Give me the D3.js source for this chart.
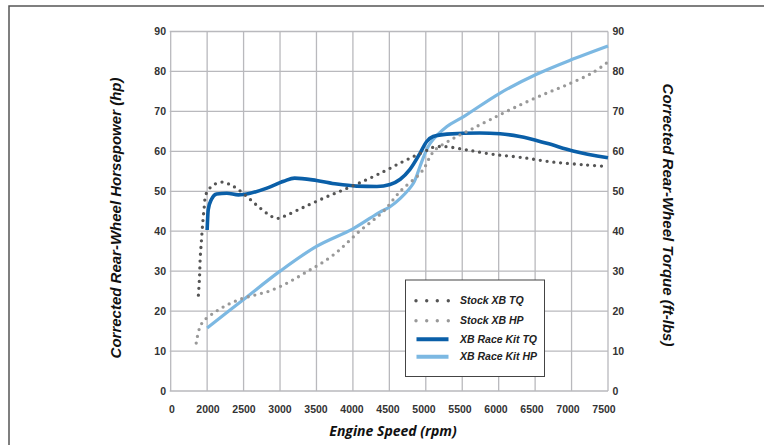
<!DOCTYPE html>
<html>
<head>
<meta charset="utf-8">
<script src="https://cdn.jsdelivr.net/npm/d3@7"></script>
<style>
  html, body { margin: 0; padding: 0; background: #fff; }
  svg { display: block; }
  .tick-label { font-family: "Liberation Sans", Arial, sans-serif; font-weight: bold; font-size: 10.5px; fill: #333; }
  .axis-title { font-family: "Liberation Sans", Arial, sans-serif; font-weight: bold; font-style: italic; font-size: 15px; fill: #111; }
  .x-title { font-family: "Open Sans", sans-serif; font-weight: bold; font-style: italic; font-size: 14px; fill: #111; }
  .legend-label { font-family: "Liberation Sans", Arial, sans-serif; font-weight: bold; font-style: italic; font-size: 10.5px; fill: #222; }
</style>
</head>
<body>
<div id="chart"></div>
<script>
// x ticks: the first grid line (1500 rpm) is labelled "0" on the original
var xTicks = [1500, 2000, 2500, 3000, 3500, 4000, 4500, 5000, 5500, 6000, 6500, 7000, 7500];
var xTickLabels = ['0', '2000', '2500', '3000', '3500', '4000', '4500', '5000', '5500', '6000', '6500', '7000', '7500'];
var yTicks = [0, 10, 20, 30, 40, 50, 60, 70, 80, 90];

var seriesNames = ['Stock XB TQ', 'Stock XB HP', 'XB Race Kit TQ', 'XB Race Kit HP'];

var stockTqRpm = [1880, 1895, 1905, 1920, 1935, 1955, 1990, 2080, 2200, 2300, 2400, 2550, 2700, 2850, 2950, 3050, 3300, 3600, 3900, 4200, 4450, 4650, 4830, 5000, 5100, 5250, 5550, 5900, 6300, 6750, 7200, 7500];
var stockTq = [24, 28.3, 33.3, 37.2, 41, 45, 49.5, 51.5, 52.3, 51.8, 50.8, 48.6, 46.2, 44.1, 43.2, 43.7, 45.8, 48.3, 50.6, 53, 55.2, 57.1, 58.7, 60.1, 61, 61.2, 60.4, 59.3, 58.5, 57.3, 56.6, 56.2];

var stockHpRpm = [1850, 1895, 1950, 2110, 2280, 2475, 2670, 2850, 3040, 3205, 3390, 3560, 3755, 3915, 4090, 4260, 4420, 4650, 4920, 4990, 5060, 5130, 5355, 5610, 5880, 6200, 6570, 6930, 7300, 7500];
var stockHp = [12, 15.7, 17.5, 19.8, 21.6, 23.1, 24.1, 25, 26.5, 28.1, 30.1, 31.9, 34.4, 37, 40, 42.5, 45, 50, 54.4, 56.2, 58.7, 60.4, 63, 65.4, 67.9, 70.8, 73.9, 76.6, 79.8, 82.4];

var raceTqRpm = [2000, 2015, 2060, 2130, 2270, 2430, 2590, 2820, 3050, 3200, 3500, 3780, 4050, 4330, 4510, 4650, 4780, 4920, 5010, 5100, 5290, 5740, 6020, 6290, 6660, 7020, 7500];
var raceTq = [40.3, 45.4, 48.0, 49.3, 49.5, 49.1, 49.5, 50.8, 52.5, 53.3, 52.7, 51.8, 51.3, 51.2, 51.7, 53.0, 55.4, 59.5, 62.4, 63.7, 64.3, 64.6, 64.4, 63.7, 62.0, 60.1, 58.4];

var raceHpRpm = [2000, 2500, 3000, 3500, 4000, 4370, 4500, 4650, 4830, 4920, 4990, 5060, 5290, 5520, 6020, 6520, 7020, 7500];
var raceHp = [15.8, 22.9, 30.0, 36.2, 40.6, 44.8, 46.0, 48.2, 52.0, 56.2, 59.5, 62.0, 66.2, 68.7, 74.6, 79.3, 83.1, 86.4];

var width = 764, height = 445;
var svg = d3.select('#chart').append('svg')
  .attr('width', width)
  .attr('height', height);

// outer frame, only left and top edges show in the picture
svg.append('rect')
  .attr('x', 9).attr('y', 6)
  .attr('width', 800).attr('height', 500)
  .attr('fill', 'none')
  .attr('stroke', '#555')
  .attr('stroke-width', 1.5);

var x = d3.scaleLinear().domain([1500, 7500]).range([170.7, 608]);
var y = d3.scaleLinear().domain([0, 90]).range([391, 31.5]);
var xLabel = d3.scaleLinear().domain([1500, 7500]).range([172, 604]);

var grid = svg.append('g').attr('class', 'grid');
grid.selectAll('line.v').data(xTicks).enter().append('line')
  .attr('class', 'v')
  .attr('x1', function(d) { return x(d); })
  .attr('x2', function(d) { return x(d); })
  .attr('y1', y(0)).attr('y2', y(90))
  .attr('stroke', '#b9b9bd').attr('stroke-width', 1.3);
grid.selectAll('line.h').data(yTicks).enter().append('line')
  .attr('class', 'h')
  .attr('x1', x(1500) - 1).attr('x2', x(7500))
  .attr('y1', function(d) { return y(d); })
  .attr('y2', function(d) { return y(d); })
  .attr('stroke', '#b9b9bd').attr('stroke-width', 1.3);

// tick labels
svg.selectAll('text.yl').data(yTicks).enter().append('text')
  .attr('class', 'tick-label yl')
  .attr('x', 166).attr('y', function(d) { return y(d); })
  .attr('dy', '0.36em')
  .attr('text-anchor', 'end')
  .text(function(d) { return d; });
svg.selectAll('text.yr').data(yTicks).enter().append('text')
  .attr('class', 'tick-label yr')
  .attr('x', 612.5).attr('y', function(d) { return y(d); })
  .attr('dy', '0.36em')
  .text(function(d) { return d; });
svg.selectAll('text.xl').data(xTicks).enter().append('text')
  .attr('class', 'tick-label xl')
  .attr('x', function(d) { return xLabel(d); })
  .attr('y', 413)
  .attr('text-anchor', 'middle')
  .text(function(d, i) { return xTickLabels[i]; });

// axis titles
svg.append('text').attr('class', 'axis-title')
  .attr('transform', 'translate(121,218) rotate(-90)')
  .attr('text-anchor', 'middle')
  .text('Corrected Rear-Wheel Horsepower (hp)');
svg.append('text').attr('class', 'axis-title')
  .attr('transform', 'translate(663,215) rotate(90)')
  .attr('text-anchor', 'middle')
  .text('Corrected Rear-Wheel Torque  (ft-lbs)');
svg.append('text').attr('class', 'x-title')
  .attr('x', 393).attr('y', 436)
  .attr('text-anchor', 'middle')
  .text('Engine Speed  (rpm)');

// curves
var smooth = d3.curveCatmullRom.alpha(0.5);
var zip = function(a, b) { return a.map(function(v, i) { return [v, b[i]]; }); };

var series = [
  { data: zip(raceHpRpm, raceHp), color: '#7cb8e2', width: 3.2, dash: null, curve: smooth },
  { data: zip(raceTqRpm, raceTq), color: '#0a5fa8', width: 3.6, dash: null, curve: d3.curveMonotoneX },
  { data: zip(stockHpRpm, stockHp), color: '#999', width: 3.3, dash: '0 6.8', curve: smooth },
  { data: zip(stockTqRpm, stockTq), color: '#555', width: 3.3, dash: '0 6.8', curve: smooth }
];

svg.selectAll('path.series').data(series).enter().append('path')
  .attr('class', 'series')
  .attr('d', function(s) {
    return d3.line()
      .x(function(d) { return x(d[0]); })
      .y(function(d) { return y(d[1]); })
      .curve(s.curve)(s.data);
  })
  .attr('fill', 'none')
  .attr('stroke', function(s) { return s.color; })
  .attr('stroke-width', function(s) { return s.width; })
  .attr('stroke-linecap', function(s) { return s.dash ? 'round' : 'butt'; })
  .attr('stroke-dasharray', function(s) { return s.dash; });

// legend
var legend = svg.append('g').attr('transform', 'translate(405.5,280)');
legend.append('rect')
  .attr('width', 139).attr('height', 96.5)
  .attr('fill', '#fff')
  .attr('stroke', '#444').attr('stroke-width', 1);

var legendItems = [
  { name: seriesNames[0], color: '#555', dots: true, y: 20.7 },
  { name: seriesNames[1], color: '#999', dots: true, y: 40.7 },
  { name: seriesNames[2], color: '#0a5fa8', dots: false, y: 59.3 },
  { name: seriesNames[3], color: '#7cb8e2', dots: false, y: 76.7 }
];
var rows = legend.selectAll('g.row').data(legendItems).enter().append('g')
  .attr('class', 'row')
  .attr('transform', function(d) { return 'translate(0,' + d.y + ')'; });
rows.each(function(d) {
  var g = d3.select(this);
  if (d.dots) {
    g.selectAll('circle').data([10.5, 21.2, 31.8, 42.8]).enter().append('circle')
      .attr('cx', function(c) { return c; }).attr('cy', 0).attr('r', 1.7)
      .attr('fill', d.color);
  } else {
    g.append('line')
      .attr('x1', 11).attr('x2', 43)
      .attr('y1', 0).attr('y2', 0)
      .attr('stroke', d.color).attr('stroke-width', 4);
  }
  g.append('text').attr('class', 'legend-label')
    .attr('x', 54.5).attr('y', 0).attr('dy', '0.36em')
    .text(d.name);
});
</script>
</body>
</html>
